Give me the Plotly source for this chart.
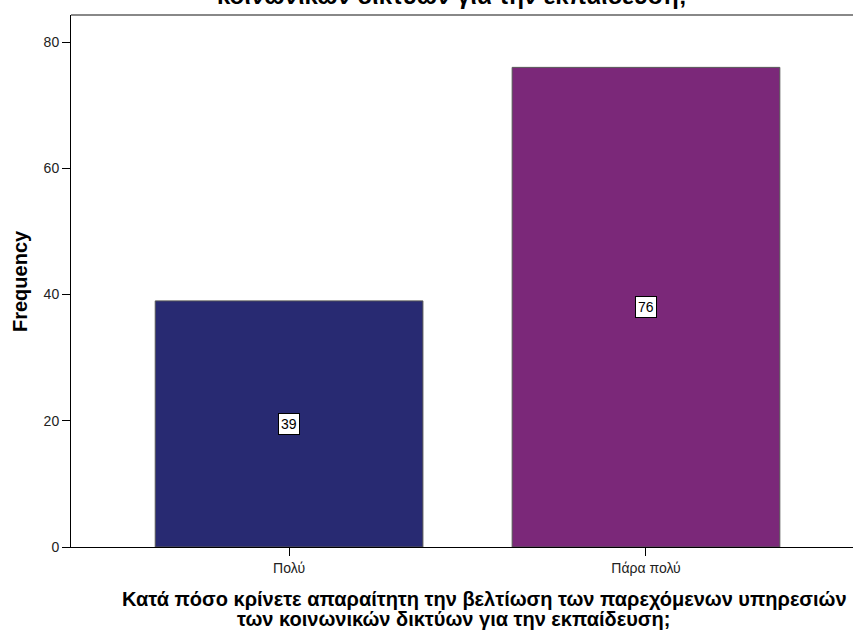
import plotly.graph_objects as go

categories = ["Πολύ", "Πάρα πολύ"]
frequencies = [39, 76]
bar_colors = ["#282A72", "#7B2879"]
y_ticks = [0, 20, 40, 60, 80]
x_title_lines = ["Κατά πόσο κρίνετε απαραίτητη την βελτίωση των παρεχόμενων υπηρεσιών",
                 "των κοινωνικών δικτύων για την εκπαίδευση;"]
top_title = "κοινωνικών δικτύων για την εκπαίδευση;"
y_title = "Frequency"

FONT = "Liberation Sans, Arial, sans-serif"

fig = go.Figure()
fig.add_trace(go.Bar(
    x=categories, y=frequencies, width=0.75,
    marker=dict(color=bar_colors, line=dict(color="#555555", width=1)),
    showlegend=False, hoverinfo="skip",
))

for c, v in zip(categories, frequencies):
    fig.add_annotation(
        x=c, y=v / 2, text=str(v), showarrow=False,
        font=dict(family=FONT, size=14, color="black"),
        bgcolor="white", bordercolor="black", borderwidth=1, borderpad=2,
    )

# title (partially cut off at the top, as in the reference)
fig.add_annotation(
    xref="paper", yref="paper", x=0.5, y=1, yanchor="bottom", yshift=4, xshift=-10,
    text="<b>" + top_title + "</b>", showarrow=False,
    font=dict(family=FONT, size=24, color="black"),
)

# x axis title: large glyphs with tight line spacing
line1 = "<span style='font-size:20px'><b>" + x_title_lines[0] + "</b></span>"
line2 = "<span style='font-size:20px'><b>" + x_title_lines[1] + "&nbsp;" * 11 + "</b></span>"
fig.add_annotation(
    xref="paper", yref="paper", x=0.5, y=0, yanchor="middle", yshift=-62, xshift=22,
    text=line1 + "<br>" + line2, showarrow=False,
    font=dict(family=FONT, size=15.4, color="black"),
)

# y axis title
fig.add_annotation(
    xref="paper", yref="paper", x=0, y=0.5, xanchor="center", yanchor="middle",
    xshift=-51, textangle=-90,
    text="<b>" + y_title + "</b>", showarrow=False,
    font=dict(family=FONT, size=20, color="black"),
)

fig.add_shape(type="line", xref="paper", yref="paper", x0=0, x1=1, y0=1, y1=1,
              line=dict(color="#888888", width=2))

fig.update_layout(
    width=853, height=630,
    margin=dict(l=71, r=0, t=15, b=83),
    paper_bgcolor="white", plot_bgcolor="white",
    font=dict(family=FONT, color="black"),
    xaxis=dict(
        range=[-0.611, 1.58], showline=True, linecolor="black", linewidth=1,
        ticks="outside", ticklen=8, tickcolor="black", showgrid=False,
        automargin=False,
        tickfont=dict(size=14, color="#222222"),
    ),
    yaxis=dict(
        range=[0, 84.3], tickvals=y_ticks, showline=True, linecolor="black", linewidth=1,
        ticks="outside", ticklen=8, tickcolor="black", showgrid=False, zeroline=False,
        automargin=False,
        tickfont=dict(size=14, color="#222222"),
    ),
)

fig.write_html("out.html", config={"displayModeBar": False},
               post_script="document.body.style.margin='0';")
